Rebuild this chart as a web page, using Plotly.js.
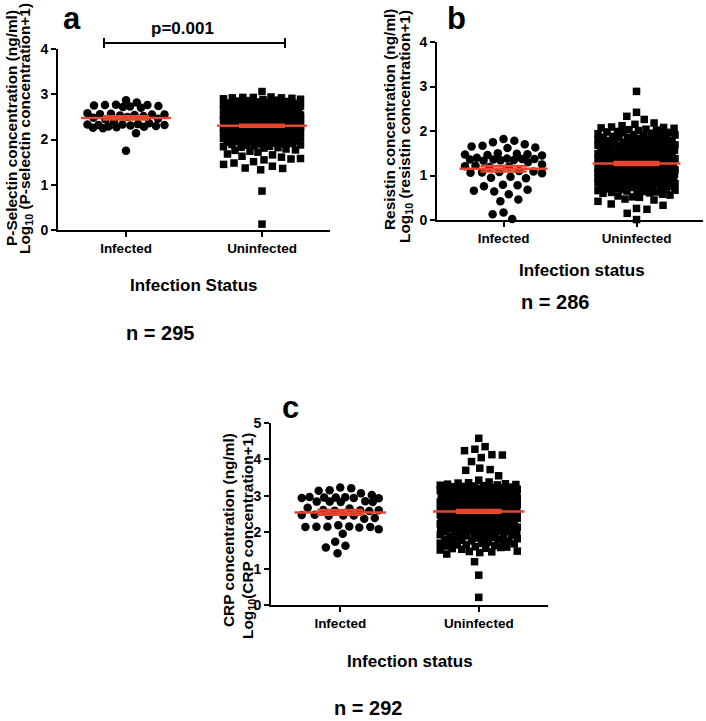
<!DOCTYPE html>
<html>
<head>
<meta charset="utf-8">
<script src="https://cdn.plot.ly/plotly-3.0.1.min.js"></script>
<style>html,body{margin:0;padding:0;background:#fff;}#chart{width:706px;height:721px;}</style>
</head>
<body>
<div id="chart"></div>
<script>
// ---------------- DATA ----------------
const categories = ['Infected', 'Uninfected'];

// Panel a: Log10(P-selectin concentration + 1)
const pselInfected = [2.87, 2.82, 2.77, 2.76, 2.76, 2.75, 2.74, 2.73, 2.72, 2.70,
  2.58, 2.57, 2.56, 2.55, 2.55, 2.54, 2.53, 2.52, 2.50, 2.48, 2.46, 2.44,
  2.40, 2.36, 2.34, 2.33, 2.33, 2.32, 2.32, 2.31, 2.30, 2.29, 2.28, 2.27, 2.26, 2.25,
  2.14, 1.75];
const pselUninfected = [3.06,
  2.94, 2.93, 2.93, 2.92, 2.92, 2.91, 2.90,
  2.89, 2.88, 2.87, 2.86, 2.85, 2.84, 2.83, 2.82, 2.81, 2.80,
  2.79, 2.79, 2.78, 2.77, 2.77, 2.76, 2.75, 2.75, 2.74, 2.73, 2.73, 2.72, 2.71, 2.71, 2.70, 2.70,
  2.69, 2.69, 2.68, 2.68, 2.67, 2.67, 2.66, 2.66, 2.65, 2.65, 2.65, 2.64, 2.64, 2.63, 2.63, 2.62, 2.62, 2.62, 2.61, 2.61, 2.60, 2.60,
  2.59, 2.59, 2.59, 2.58, 2.58, 2.57, 2.57, 2.57, 2.56, 2.56, 2.55, 2.55, 2.55, 2.54, 2.54, 2.54, 2.53, 2.53, 2.52, 2.52, 2.52, 2.51, 2.51, 2.50, 2.50, 2.50,
  2.49, 2.49, 2.49, 2.48, 2.48, 2.48, 2.47, 2.47, 2.47, 2.46, 2.46, 2.46, 2.45, 2.45, 2.45, 2.44, 2.44, 2.44, 2.43, 2.43, 2.43, 2.42, 2.42, 2.42, 2.41, 2.41, 2.40, 2.40,
  2.39, 2.39, 2.39, 2.38, 2.38, 2.38, 2.37, 2.37, 2.37, 2.36, 2.36, 2.36, 2.35, 2.35, 2.35, 2.34, 2.34, 2.34, 2.33, 2.33, 2.33, 2.32, 2.32, 2.32, 2.31, 2.31, 2.31, 2.30, 2.30, 2.30,
  2.29, 2.29, 2.29, 2.28, 2.28, 2.28, 2.27, 2.27, 2.27, 2.26, 2.26, 2.26, 2.25, 2.25, 2.25, 2.24, 2.24, 2.24, 2.23, 2.23, 2.23, 2.22, 2.22, 2.22, 2.21, 2.21, 2.21, 2.20, 2.20, 2.20,
  2.19, 2.19, 2.19, 2.18, 2.18, 2.18, 2.17, 2.17, 2.16, 2.16, 2.16, 2.15, 2.15, 2.14, 2.14, 2.14, 2.13, 2.13, 2.12, 2.12, 2.11, 2.11, 2.10, 2.10,
  2.09, 2.09, 2.08, 2.08, 2.07, 2.07, 2.06, 2.06, 2.05, 2.05, 2.04, 2.04, 2.03, 2.03, 2.02, 2.02, 2.01, 2.00,
  1.99, 1.98, 1.97, 1.97, 1.96, 1.95, 1.95, 1.94, 1.93, 1.93, 1.92, 1.91, 1.91, 1.90,
  1.89, 1.88, 1.87, 1.86, 1.85, 1.84, 1.83, 1.82, 1.81,
  1.79, 1.77, 1.76, 1.74, 1.72,
  1.68, 1.66, 1.63, 1.61,
  1.58, 1.57, 1.55, 1.51,
  1.48, 1.45, 1.41,
  1.37, 1.36, 1.33,
  0.86, 0.13];

// Panel b: Log10(resistin concentration + 1)
const resInfected = [1.82, 1.78, 1.75, 1.70, 1.67, 1.65, 1.63, 1.62,
  1.50, 1.49, 1.48, 1.47, 1.46, 1.45, 1.40,
  1.38, 1.37, 1.37, 1.36, 1.36, 1.35, 1.34, 1.33, 1.30, 1.25,
  1.22, 1.21, 1.20, 1.19, 1.10, 1.09, 1.08, 1.07, 1.06, 1.05,
  0.97, 0.95, 0.94, 0.79, 0.78, 0.76, 0.68, 0.66, 0.64, 0.58,
  0.46, 0.42, 0.17, 0.13, 0.02];
const resUninfected = [2.89, 2.42, 2.33, 2.26, 2.18, 2.15, 2.12,
  2.09, 2.08, 2.07, 2.06, 2.04, 2.03, 2.02, 2.01,
  1.99, 1.98, 1.97, 1.96, 1.95, 1.94, 1.93, 1.92, 1.91,
  1.89, 1.88, 1.87, 1.86, 1.85, 1.85, 1.84, 1.83, 1.82, 1.81, 1.80,
  1.79, 1.78, 1.78, 1.77, 1.76, 1.75, 1.74, 1.73, 1.72, 1.72, 1.71, 1.70,
  1.69, 1.68, 1.68, 1.67, 1.66, 1.65, 1.65, 1.64, 1.63, 1.62, 1.62, 1.61, 1.60,
  1.59, 1.58, 1.58, 1.57, 1.56, 1.56, 1.55, 1.54, 1.54, 1.53, 1.52, 1.52, 1.51, 1.50,
  1.49, 1.49, 1.48, 1.47, 1.47, 1.46, 1.45, 1.45, 1.44, 1.43, 1.43, 1.42, 1.41, 1.41, 1.40,
  1.39, 1.39, 1.38, 1.38, 1.37, 1.36, 1.36, 1.35, 1.35, 1.34, 1.33, 1.33, 1.32, 1.31, 1.31, 1.30,
  1.29, 1.29, 1.28, 1.28, 1.27, 1.27, 1.26, 1.26, 1.25, 1.25, 1.24, 1.24, 1.23, 1.23, 1.22, 1.22, 1.21, 1.21, 1.20,
  1.19, 1.19, 1.18, 1.18, 1.17, 1.17, 1.16, 1.16, 1.15, 1.15, 1.14, 1.14, 1.13, 1.13, 1.12, 1.12, 1.11, 1.11, 1.10,
  1.09, 1.09, 1.08, 1.08, 1.07, 1.07, 1.06, 1.06, 1.05, 1.05, 1.04, 1.04, 1.03, 1.03, 1.02, 1.02, 1.01, 1.01, 1.00,
  0.99, 0.99, 0.98, 0.97, 0.97, 0.96, 0.95, 0.95, 0.94, 0.93, 0.93, 0.92, 0.91, 0.91, 0.90, 0.90,
  0.89, 0.89, 0.88, 0.87, 0.87, 0.86, 0.85, 0.85, 0.84, 0.83, 0.83, 0.82, 0.81, 0.81, 0.80,
  0.79, 0.78, 0.78, 0.77, 0.76, 0.75, 0.75, 0.74, 0.73, 0.72, 0.72, 0.71, 0.70,
  0.69, 0.68, 0.67, 0.66, 0.66, 0.65, 0.64, 0.63, 0.62, 0.61, 0.60,
  0.58, 0.56, 0.54, 0.52, 0.51,
  0.47, 0.45, 0.42, 0.36, 0.33, 0.26, 0.24, 0.15, 0.01];

// Panel c: Log10(CRP concentration + 1)
const crpInfected = [3.23, 3.21, 3.15, 3.14, 3.07, 3.02,
  2.97, 2.96, 2.95, 2.95, 2.94, 2.94, 2.93,
  2.85, 2.84, 2.84, 2.83, 2.83, 2.67, 2.65,
  2.61, 2.60, 2.60, 2.59, 2.58, 2.48, 2.47, 2.46, 2.46, 2.45, 2.39, 2.37,
  2.19, 2.16, 2.15, 2.15, 2.14, 2.14, 2.13, 2.08, 1.96,
  1.74, 1.63, 1.58, 1.42];
const crpUninfected = [4.58, 4.35, 4.28, 4.24, 4.13, 4.12, 4.05, 3.94, 3.76, 3.72, 3.70, 3.55, 3.43,
  3.38, 3.36, 3.35, 3.33, 3.32, 3.31, 3.30,
  3.29, 3.28, 3.27, 3.26, 3.25, 3.24, 3.23, 3.22, 3.21, 3.21, 3.20,
  3.19, 3.19, 3.18, 3.17, 3.16, 3.16, 3.15, 3.14, 3.13, 3.13, 3.12, 3.11, 3.10,
  3.09, 3.09, 3.08, 3.07, 3.07, 3.06, 3.05, 3.05, 3.04, 3.03, 3.03, 3.02, 3.01, 3.00,
  2.99, 2.99, 2.98, 2.98, 2.97, 2.96, 2.96, 2.95, 2.95, 2.94, 2.93, 2.93, 2.92, 2.92, 2.91, 2.91, 2.90,
  2.89, 2.89, 2.88, 2.88, 2.87, 2.86, 2.86, 2.85, 2.85, 2.84, 2.83, 2.83, 2.82, 2.82, 2.81, 2.81, 2.80,
  2.79, 2.79, 2.78, 2.78, 2.77, 2.76, 2.76, 2.75, 2.75, 2.74, 2.73, 2.73, 2.72, 2.72, 2.71, 2.71, 2.70,
  2.69, 2.69, 2.68, 2.67, 2.67, 2.66, 2.65, 2.65, 2.64, 2.63, 2.63, 2.62, 2.62, 2.61, 2.61, 2.60,
  2.59, 2.59, 2.58, 2.57, 2.57, 2.56, 2.55, 2.55, 2.54, 2.53, 2.53, 2.52, 2.52, 2.51, 2.51, 2.50,
  2.49, 2.48, 2.48, 2.47, 2.46, 2.46, 2.45, 2.44, 2.44, 2.43, 2.42, 2.42, 2.41, 2.40,
  2.39, 2.38, 2.38, 2.37, 2.36, 2.35, 2.35, 2.34, 2.33, 2.32, 2.32, 2.31, 2.30,
  2.29, 2.28, 2.27, 2.27, 2.26, 2.25, 2.24, 2.24, 2.23, 2.22, 2.21, 2.20,
  2.19, 2.18, 2.17, 2.17, 2.16, 2.15, 2.14, 2.13, 2.12, 2.11, 2.10,
  2.09, 2.08, 2.07, 2.06, 2.05, 2.04, 2.03, 2.02, 2.01, 2.00,
  1.99, 1.98, 1.97, 1.96, 1.95, 1.94, 1.93, 1.92, 1.90,
  1.89, 1.88, 1.86, 1.85, 1.84, 1.83, 1.82, 1.80,
  1.79, 1.78, 1.76, 1.75, 1.74, 1.73, 1.72, 1.70,
  1.69, 1.68, 1.66, 1.65, 1.63, 1.62, 1.60,
  1.59, 1.58, 1.56, 1.55, 1.53, 1.51,
  1.48, 1.47, 1.46, 1.44, 1.40,
  1.19, 0.82, 0.21];

const yTicksAB = [0, 1, 2, 3, 4];
const yTicksC = [0, 1, 2, 3, 4, 5];

// ---------------- LAYOUT GEOMETRY ----------------
const W = 706, H = 721;
const RED = '#e4472d';
const FONT = 'Arial, "Liberation Sans", Helvetica, sans-serif';
const px = x => x / W;
const py = y => 1 - y / H;

const panels = [
  {key: '',  l: 58,  r: 330, t: 49,  b: 230, ymax: 4, ticks: yTicksAB, inf: pselInfected, un: pselUninfected},
  {key: '2', l: 437, r: 703, t: 42,  b: 220, ymax: 4, ticks: yTicksAB, inf: resInfected,  un: resUninfected},
  {key: '3', l: 271, r: 548, t: 423, b: 605, ymax: 5, ticks: yTicksC,  inf: crpInfected,  un: crpUninfected}
];

// beeswarm-style horizontal spreading (Prism-like), bounded width
function swarm(values, pxPerY, pxPerX, D, maxHalf) {
  const order = values.map((v, i) => i).sort((a, b) => values[b] - values[a]);
  const placed = [];
  const out = new Array(values.length);
  let flip = 1;
  for (const i of order) {
    const y = values[i] * pxPerY;
    const near = placed.filter(p => Math.abs(p.y - y) < D);
    const cands = [0];
    near.forEach(p => {
      const w = Math.sqrt(D * D - (p.y - y) * (p.y - y));
      cands.push(p.x - w, p.x + w);
    });
    cands.sort((a, b) => (Math.abs(a) - Math.abs(b)) || flip * (a - b));
    let best = null;
    for (const c of cands) {
      if (Math.abs(c) > maxHalf + 1e-9) continue;
      if (near.every(p => (p.x - c) ** 2 + (p.y - y) ** 2 >= D * D - 1e-6)) { best = c; break; }
    }
    if (best === null) {
      let bestScore = -1;
      for (let c = -maxHalf; c <= maxHalf + 1e-9; c += 0.5) {
        let m = Infinity;
        for (const p of near) {
          const d = (p.x - c) ** 2 + (p.y - y) ** 2;
          if (d < m) m = d;
        }
        if (m > bestScore + 1e-9) { bestScore = m; best = c; }
      }
    }
    flip = -flip;
    placed.push({x: best, y: y});
    out[i] = best / pxPerX;
  }
  return out;
}

function stats(v) {
  const n = v.length;
  const m = v.reduce((s, a) => s + a, 0) / n;
  const sd = Math.sqrt(v.reduce((s, a) => s + (a - m) ** 2, 0) / (n - 1));
  return {mean: m, sem: sd / Math.sqrt(n)};
}

const traces = [];
const layout = {
  width: W, height: H, autosize: false,
  margin: {l: 0, r: 0, t: 0, b: 0, pad: 0},
  paper_bgcolor: '#fff', plot_bgcolor: '#fff',
  showlegend: false,
  font: {family: FONT, color: '#000'},
  annotations: [], shapes: []
};

panels.forEach(P => {
  const xa = 'xaxis' + P.key, ya = 'yaxis' + P.key;
  const xr = 'x' + P.key, yr = 'y' + P.key;
  const pxPerX = (P.r - P.l) / 2;
  const pxPerY = (P.b - P.t) / P.ymax;
  layout[xa] = {
    domain: [px(P.l), px(P.r)], anchor: yr, range: [-0.5, 1.5],
    tickvals: [0, 1], ticktext: categories,
    showline: true, linecolor: '#000', linewidth: 2,
    ticks: 'outside', ticklen: 5, tickwidth: 2, tickcolor: '#000',
    showgrid: false, zeroline: false, fixedrange: true,
    tickfont: {family: FONT, size: 13.5, color: '#000', weight: 'bold'}
  };
  layout[ya] = {
    domain: [py(P.b), py(P.t)], anchor: xr, range: [0, P.ymax],
    tickvals: P.ticks, ticktext: P.ticks.map(String),
    showline: true, linecolor: '#000', linewidth: 2,
    ticks: 'outside', ticklen: 5, tickwidth: 2, tickcolor: '#000',
    showgrid: false, zeroline: false, fixedrange: true,
    tickfont: {family: FONT, size: 14, color: '#000', weight: 'bold'}
  };
  const groups = [
    {vals: P.inf, c: 0, symbol: 'circle', size: 8.5, D: 11},
    {vals: P.un,  c: 1, symbol: 'square', size: 7.5, D: 10.5}
  ];
  groups.forEach(g => {
    const off = swarm(g.vals, pxPerY, pxPerX, g.D, 38.5);
    traces.push({
      type: 'scatter', mode: 'markers', xaxis: xr, yaxis: yr, cliponaxis: false,
      x: off.map(o => g.c + o), y: g.vals,
      marker: {symbol: g.symbol, size: g.size, color: '#000', line: {width: 0}},
      hoverinfo: 'y'
    });
  });
  groups.forEach(g => {
    const s = stats(g.vals);
    traces.push({
      type: 'scatter', mode: 'lines', xaxis: xr, yaxis: yr, cliponaxis: false,
      x: [g.c - 0.33, g.c + 0.33], y: [s.mean, s.mean],
      line: {color: RED, width: 2.5}, hoverinfo: 'skip'
    });
    traces.push({
      type: 'scatter', mode: 'markers', xaxis: xr, yaxis: yr, cliponaxis: false,
      x: [g.c], y: [s.mean],
      marker: {size: 1, color: RED},
      error_y: {type: 'data', array: [s.sem], visible: true, color: RED, thickness: 2.5, width: 23},
      hoverinfo: 'skip'
    });
  });
});

function ann(text, x, y, size, extra) {
  return Object.assign({
    text: text, xref: 'paper', yref: 'paper', x: px(x), y: py(y),
    xanchor: 'center', yanchor: 'middle', showarrow: false,
    font: {family: FONT, size: size, color: '#000', weight: 'bold'}
  }, extra || {});
}

const TS = 15.4;
layout.annotations.push(
  ann('a', 72, 19, 31),
  ann('b', 456, 19, 31),
  ann('c', 290, 407, 31),
  ann('p=0.001', 182, 29, 17),
  ann('Infection Status', 194, 285, 17),
  ann('n = 295', 160, 333, 20),
  ann('Infection status', 582, 270, 17),
  ann('n = 286', 555, 302, 20),
  ann('Infection status', 410, 661, 17),
  ann('n = 292', 368, 721, 20, {yanchor: 'bottom'}),
  ann('P-Selectin concentration (ng/ml)', 11, 128, TS, {textangle: -90}),
  ann('Log<sub>10</sub> (P-selectin concentration+1)', 25, 129, TS, {textangle: -90}),
  ann('Resistin concentration (ng/ml)', 389, 120, TS, {textangle: -90}),
  ann('Log<sub>10</sub> (resistin concentration+1)', 405, 127, TS, {textangle: -90}),
  ann('CRP concentration (ng/ml)', 228, 530, TS, {textangle: -90}),
  ann('Log<sub>10</sub>(CRP concentration+1)', 248, 536, TS, {textangle: -90})
);

const bl = {color: '#000', width: 2};
layout.shapes.push(
  {type: 'line', xref: 'paper', yref: 'paper', x0: px(104), x1: px(285), y0: py(43), y1: py(43), line: bl},
  {type: 'line', xref: 'paper', yref: 'paper', x0: px(104), x1: px(104), y0: py(38), y1: py(48), line: bl},
  {type: 'line', xref: 'paper', yref: 'paper', x0: px(285), x1: px(285), y0: py(38), y1: py(48), line: bl}
);

Plotly.newPlot('chart', traces, layout, {staticPlot: true, displayModeBar: false});
</script>
</body>
</html>
